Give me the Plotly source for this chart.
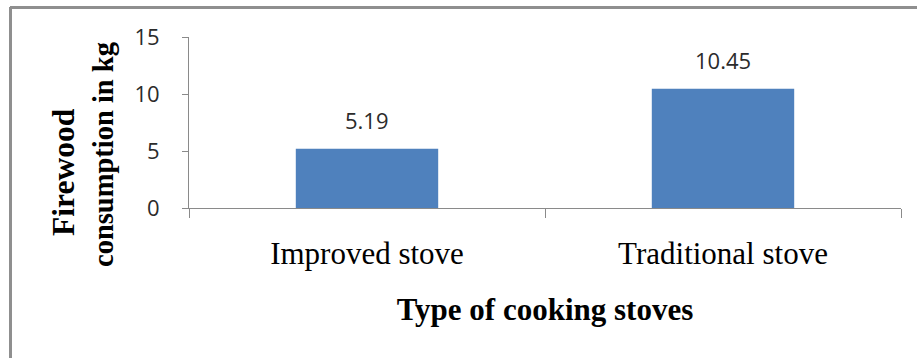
import plotly.graph_objects as go

categories = ["Improved stove", "Traditional stove"]
consumption = [5.19, 10.45]
y_ticks = [0, 5, 10, 15]
x_title = "Type of cooking stoves"
y_title_lines = ["Firewood", "consumption in kg"]

L, R, T, B = 189, 16, 37, 150
W, H = 917, 358
pw, ph = W - L - R, H - T - B

fig = go.Figure()
fig.add_trace(go.Bar(
    x=categories, y=consumption,
    marker=dict(color="#4F81BD", line=dict(width=0)),
    width=0.4,
))

# data labels
for c, v in zip(categories, consumption):
    fig.add_annotation(
        x=c, y=v, xref="x", yref="y", text=f"{v:.2f}", showarrow=False,
        yanchor="bottom", yshift=12,
        font=dict(family="Open Sans", size=22, color="#2b2b2b"),
    )

def px_x(p):
    return (p - L) / pw

def px_y(p):
    return (H - B - p) / ph

# y-axis title (two lines)
fig.add_annotation(x=px_x(63), y=px_y(172), xref="paper", yref="paper",
                   text="<b>" + y_title_lines[0] + "</b>", textangle=-90, showarrow=False,
                   xanchor="center", yanchor="middle",
                   font=dict(family="Liberation Serif", size=31.5, color="black"))
fig.add_annotation(x=px_x(103), y=px_y(155), xref="paper", yref="paper",
                   text="<b>" + y_title_lines[1] + "</b>", textangle=-90, showarrow=False,
                   xanchor="center", yanchor="middle",
                   font=dict(family="Liberation Serif", size=28.5, color="black"))

# outer frame (top and left edges visible)
fig.add_shape(type="line", xref="paper", yref="paper",
              x0=px_x(10), x1=px_x(925), y0=px_y(7.5), y1=px_y(7.5),
              line=dict(color="#8f8f8f", width=3))
fig.add_shape(type="line", xref="paper", yref="paper",
              x0=px_x(10.5), x1=px_x(10.5), y0=px_y(7), y1=px_y(370),
              line=dict(color="#8f8f8f", width=3))

fig.update_layout(
    width=W, height=H,
    margin=dict(l=L, r=R, t=T, b=B),
    paper_bgcolor="white", plot_bgcolor="white",
    showlegend=False,
    xaxis=dict(
        showline=True, linecolor="#8a8a8a", linewidth=1,
        ticks="outside", tickson="boundaries", ticklen=9, tickcolor="#8a8a8a",
        ticklabelstandoff=18,
        tickfont=dict(family="Liberation Serif", size=31, color="black"),
        title=dict(text="<b>" + x_title + "</b>", standoff=28,
                   font=dict(family="Liberation Serif", size=31, color="black")),
        showgrid=False, zeroline=False,
    ),
    yaxis=dict(
        range=[0, 15], tickvals=y_ticks,
        showline=True, linecolor="#8a8a8a", linewidth=1,
        ticks="outside", ticklen=6, tickcolor="#8a8a8a",
        ticklabelstandoff=18,
        tickfont=dict(family="Open Sans", size=22, color="#2b2b2b"),
        showgrid=False, zeroline=False,
    ),
)

fig.write_html("out.html")
